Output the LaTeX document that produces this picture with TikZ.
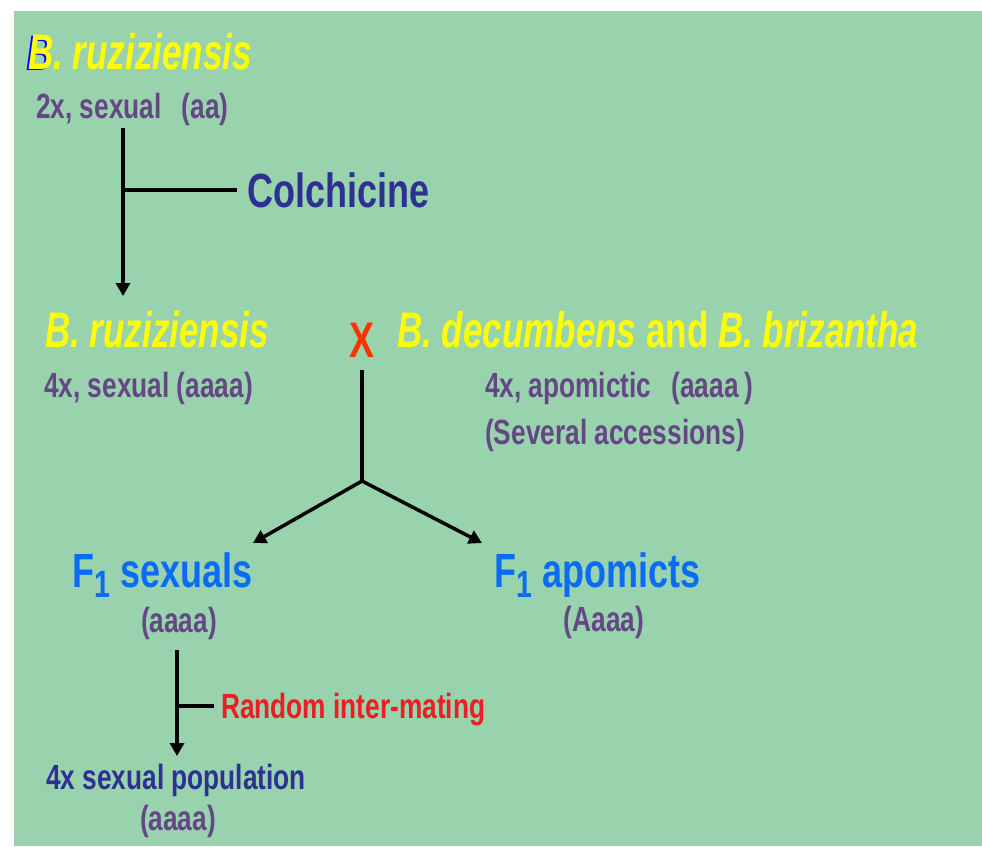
\documentclass[tikz,border=0pt]{standalone}
\usepackage{fontspec}
\setmainfont{Liberation Sans}
\newfontfamily\nar[FakeStretch=0.75]{Liberation Sans}
\newfontfamily\narr[FakeStretch=0.70]{Liberation Sans}
\usetikzlibrary{arrows.meta}
\definecolor{bg}{HTML}{99D3AE}
\definecolor{yel}{HTML}{FFFF00}
\definecolor{pur}{HTML}{654786}
\definecolor{dblue}{HTML}{2E3192}
\definecolor{fblue}{HTML}{0A6CF5}
\definecolor{xred}{HTML}{FF3300}
\definecolor{rred}{HTML}{EE1C24}
\newcommand\myfs[1]{\fontsize{#1}{#1}\selectfont}
\begin{document}
\begin{tikzpicture}[x=1pt,y=-1pt,
  txt/.style={inner sep=0pt, anchor=base west},
  ttl/.style={txt, text=yel, font=\narr\bfseries\itshape\myfs{50}},
  purp/.style={txt, text=pur, font=\nar\bfseries\myfs{35}},
  big/.style={txt, font=\nar\bfseries\myfs{48}},
  ln/.style={line width=3.5pt, black},
  arr/.style={ln, -{Triangle[length=13pt,width=14pt]}}]
\useasboundingbox (0,0) rectangle (982,846);
\fill[bg] (14,11) rectangle (982,846);
% top
\node[ttl, text=blue] at (26.5,70.5) {B};
\node[ttl] (r1) at (28,69) {B. ruziziensis};
\node[purp] (r1d) at (36,118) {2x, sexual\hspace{20pt}(aa)};
\node[big, text=dblue] (colch) at (247,207) {Colchicine};
\coordinate (v1top) at (123,128);
\coordinate (v1bot) at (123,296);
\draw[arr] (v1top) -- (v1bot);
\draw[ln] ([xshift=-10pt]colch.west) -- (v1top |- colch.west);
% second row
\node[ttl] (r2) at (45,347) {B. ruziziensis};
\node[purp] (r2d) at (44,397) {4x, sexual (aaaa)};
\node[txt, anchor=center, text=xred, font=\nar\bfseries\myfs{50}] (X) at (362,340) {X};
\node[ttl] (dec) at (397,347) {B. decumbens \upshape and \itshape B. brizantha};
\node[purp] (decd) at (485,397) {4x, apomictic\hspace{20pt}(aaaa\,)};
\node[purp] (acc) at (485,444) {(Several accessions)};
\coordinate (xtop) at (362,370);
\coordinate (jn) at (362,481);
\coordinate (ls) at (253,543);
\coordinate (la) at (482,543);
\draw[ln] (xtop) -- (jn);
\draw[arr] (jn) -- (ls);
\draw[arr] (jn) -- (la);
% F1
\node[big, text=fblue] (fs) at (72,587) {F\raisebox{-10pt}{\myfs{38}1} sexuals};
\node[purp, anchor=base] (fsd) at (179,632) {(aaaa)};
\node[big, text=fblue] (fa) at (494,587) {F\raisebox{-10pt}{\myfs{38}1} apomicts};
\node[purp, anchor=base] (fad) at (604,631) {(Aaaa)};
% bottom
\coordinate (v2top) at (177,650);
\coordinate (v2bot) at (177,756);
\draw[arr] (v2top) -- (v2bot);
\node[purp, text=rred] (rim) at (221,718) {Random inter-mating};
\coordinate (rimj) at (214,706);
\draw[ln] (rimj) -- (v2top |- rimj);
\node[purp, text=dblue] (pop) at (46,789) {4x sexual population};
\node[purp, anchor=base] (popd) at (178,830) {(aaaa)};
\end{tikzpicture}
\end{document}
